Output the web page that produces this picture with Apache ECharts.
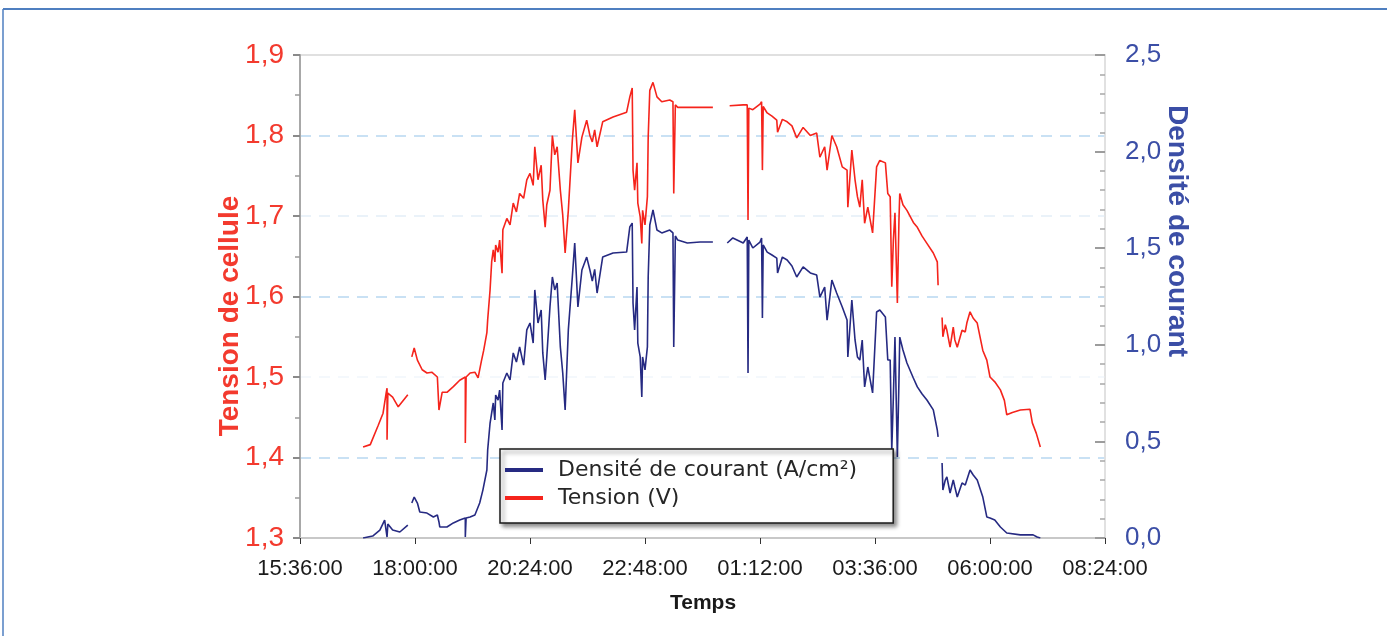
<!DOCTYPE html>
<html>
<head>
<meta charset="utf-8">
<script src="https://cdn.jsdelivr.net/npm/echarts@6/dist/echarts.min.js"></script>
<style>
  html, body { margin: 0; padding: 0; background: #fff; }
  #chart { width: 1387px; height: 636px; }
</style>
</head>
<body>
<div id="chart"></div>
<script>
// Elapsed minutes since 15:36:00, one reading per entry; null marks a break in the record.
const tensionTime = [
  79, 88, 98, 104, 108, 109, 109, 110, 116, 123, 135, null,
  140, 143, 147, 153, 159, 165, 172, 174, 178, 184, 192, 200, 207, 207, 208, 213, 219, 223, 227, 230, 234,
  235, 238, 240, 242, 244, 245, 248, 250, 253, 254, 259, 263, 267, 271, 275, 280, 284, 288, 292, 294, 298,
  302, 304, 307, 309, 313, 316, 319, 322, 326, 329, 332, 336, 341, 344, 348, 353, 359, 363, 366, 369, 372,
  379, 392, 409, 413, 416, 417, 419, 422, 423, 426, 428, 429, 432, 435, 436, 438, 442, 447, 453, 463, 467,
  468, 470, 473, 485, 517, null,
  538, 555, 560, 561, 562, 567, 576, 578, 579, 580, 585, 591, 597, 598, 604, 610, 616, 622, 630, 639, 647,
  651, 657, 660, 666, 672, 679, 685, 686, 691, 695, 698, 701, 704, 707, 711, 717, 722, 726, 733, 736, 739,
  741, 743, 745, 748, 750, 751, 755, 760, 768, 773, 779, 785, 793, 798, 799, null,
  804, 805, 808, 810, 814, 818, 820, 823, 829, 833, 835, 839, 843, 848, 855, 860, 864, 870, 877, 882, 885,
  892, 902, 914, 917, 922, 927
];
const tensionValues = [
  1.413, 1.416, 1.440, 1.455, 1.481, 1.486, 1.422, 1.480, 1.475, 1.463, 1.478, null,
  1.525, 1.536, 1.521, 1.509, 1.505, 1.506, 1.500, 1.459, 1.481, 1.481, 1.488, 1.496, 1.500, 1.418, 1.500, 1.505, 1.506, 1.499, 1.519, 1.533, 1.555,
  1.571, 1.608, 1.643, 1.658, 1.643, 1.664, 1.655, 1.670, 1.629, 1.683, 1.697, 1.689, 1.716, 1.705, 1.728, 1.722, 1.745, 1.753, 1.738, 1.786, 1.745,
  1.763, 1.720, 1.686, 1.714, 1.732, 1.800, 1.776, 1.786, 1.732, 1.701, 1.654, 1.707, 1.794, 1.832, 1.766, 1.798, 1.819, 1.800, 1.792, 1.807, 1.786,
  1.817, 1.823, 1.829, 1.848, 1.859, 1.757, 1.732, 1.766, 1.716, 1.699, 1.666, 1.707, 1.689, 1.724, 1.798, 1.856, 1.866, 1.848, 1.842, 1.844, 1.842,
  1.728, 1.838, 1.835, 1.835, 1.835, null,
  1.837, 1.838, 1.838, 1.695, 1.834, 1.832, 1.839, 1.842, 1.757, 1.836, 1.828, 1.824, 1.819, 1.804, 1.820, 1.817, 1.812, 1.797, 1.810, 1.800, 1.803,
  1.773, 1.786, 1.757, 1.800, 1.786, 1.761, 1.757, 1.711, 1.782, 1.745, 1.724, 1.711, 1.745, 1.691, 1.711, 1.679, 1.761, 1.769, 1.766, 1.728, 1.724,
  1.612, 1.670, 1.704, 1.592, 1.695, 1.728, 1.714, 1.707, 1.692, 1.686, 1.675, 1.666, 1.654, 1.643, 1.614, null,
  1.574, 1.550, 1.565, 1.558, 1.537, 1.562, 1.546, 1.537, 1.558, 1.556, 1.567, 1.581, 1.573, 1.567, 1.533, 1.521, 1.500, 1.494, 1.484, 1.471, 1.453,
  1.456, 1.459, 1.460, 1.443, 1.430, 1.413
];

const densiteTime = [
  79, 91, 100, 106, 109, 110, 116, 125, 135, null,
  140, 143, 147, 150, 159, 167, 172, 174, 175, 184, 192, 200, 207, 207, 208, 213, 219, 225, 229, 234,
  235, 238, 240, 242, 244, 245, 248, 250, 253, 254, 259, 263, 267, 271, 275, 280, 284, 288, 292, 294, 298,
  302, 304, 307, 309, 313, 316, 319, 322, 326, 329, 332, 336, 341, 344, 348, 353, 359, 363, 366, 369, 372,
  379, 392, 409, 413, 416, 417, 419, 422, 423, 426, 428, 429, 432, 435, 436, 438, 442, 447, 453, 463, 467,
  468, 470, 473, 485, 501, 517, null,
  535, 542, 555, 560, 561, 562, 567, 576, 578, 579, 580, 585, 591, 597, 598, 604, 610, 616, 622, 630, 639, 647,
  651, 657, 660, 666, 672, 679, 685, 686, 691, 695, 698, 701, 704, 707, 711, 717, 722, 726, 733, 736, 739,
  741, 743, 745, 748, 750, 751, 755, 760, 768, 773, 779, 785, 793, 798, 799, null,
  804, 805, 808, 810, 814, 818, 820, 823, 829, 833, 835, 839, 843, 848, 855, 860, 864, 870, 877, 885,
  902, 914, 918, 923, 927
];
const densiteValues = [
  0.000, 0.010, 0.041, 0.093, 0.005, 0.072, 0.041, 0.031, 0.067, null,
  0.181, 0.212, 0.181, 0.135, 0.129, 0.109, 0.119, 0.083, 0.057, 0.057, 0.078, 0.093, 0.104, 0.005, 0.104, 0.109, 0.119, 0.181, 0.248, 0.352,
  0.455, 0.595, 0.647, 0.699, 0.611, 0.740, 0.714, 0.766, 0.559, 0.802, 0.854, 0.818, 0.958, 0.911, 0.989, 0.895, 1.077, 1.113, 1.009, 1.284, 1.113,
  1.180, 0.958, 0.818, 0.937, 1.196, 1.351, 1.284, 1.320, 0.989, 0.854, 0.663, 1.077, 1.351, 1.527, 1.196, 1.387, 1.454, 1.387, 1.330, 1.390, 1.268,
  1.454, 1.475, 1.480, 1.610, 1.630, 1.216, 1.077, 1.299, 1.009, 0.937, 0.730, 0.937, 0.870, 0.989, 1.351, 1.620, 1.698, 1.594, 1.579, 1.594, 1.579,
  0.989, 1.563, 1.542, 1.527, 1.532, 1.532, null,
  1.527, 1.553, 1.527, 1.558, 0.854, 1.542, 1.501, 1.532, 1.553, 1.139, 1.517, 1.480, 1.465, 1.449, 1.372, 1.454, 1.439, 1.408, 1.351, 1.403, 1.372, 1.361,
  1.247, 1.299, 1.128, 1.335, 1.268, 1.196, 1.128, 0.937, 1.232, 1.025, 0.937, 0.921, 1.025, 0.782, 0.885, 0.751, 1.170, 1.180, 1.144, 0.921, 0.921,
  0.455, 0.730, 1.040, 0.419, 0.818, 1.040, 0.973, 0.906, 0.828, 0.782, 0.745, 0.714, 0.663, 0.559, 0.523, null,
  0.388, 0.248, 0.300, 0.316, 0.233, 0.300, 0.264, 0.212, 0.285, 0.274, 0.300, 0.352, 0.326, 0.300, 0.212, 0.109, 0.104, 0.093, 0.057, 0.026,
  0.016, 0.016, 0.016, 0.005, 0.000
];

// Axis ranges and ticks
const startClock = 15 * 60 + 36;   // 15:36:00
const timeStep = 144;              // 2 h 24 min between time labels
const timeMax = 1008;              // 08:24:00 next day
const tensionMin = 1.3, tensionMax = 1.9, tensionStep = 0.1;
const densiteMin = 0, densiteMax = 2.5, densiteStep = 0.5;

const RED = '#f5241c';
const BLUE = '#262a82';
const RED_TXT = '#f33a2e';
const BLUE_TXT = '#3b4ea6';

function pairs(ts, vs) {
  return ts.map((t, i) => (t === null || vs[i] === null) ? [t === null ? '-' : t, '-'] : [t, vs[i]]);
}

function clockLabel(v) {
  const total = (startClock + Math.round(v)) % 1440;
  const h = Math.floor(total / 60), m = total % 60;
  return String(h).padStart(2, '0') + ':' + String(m).padStart(2, '0') + ':00';
}

function commaNum(v) {
  return v.toFixed(1).replace('.', ',');
}

const chart = echarts.init(document.getElementById('chart'), null, { renderer: 'canvas' });

chart.setOption({
  animation: false,
  backgroundColor: '#ffffff',
  grid: {
    left: 300, right: 282, top: 55, bottom: 98,
    show: true, borderColor: '#d6d6d6', borderWidth: 1.5, backgroundColor: 'transparent'
  },
  legend: {
    data: ['Densité de courant (A/cm²)', 'Tension (V)'],
    orient: 'vertical',
    left: 500, top: 449,
    padding: [10, 36, 14, 5],
    itemGap: 6,
    itemWidth: 38, itemHeight: 4,
    icon: 'rect',
    backgroundColor: '#ffffff',
    borderColor: '#1a1a1a', borderWidth: 1.5,
    shadowColor: 'rgba(0,0,0,0.45)', shadowBlur: 4, shadowOffsetX: 3, shadowOffsetY: 3,
    textStyle: { fontFamily: 'DejaVu Sans', fontSize: 22, color: '#262626', padding: [0, 0, 0, 10] },
    selectedMode: false,
    z: 10
  },
  xAxis: {
    type: 'value',
    min: 0, max: timeMax, interval: timeStep,
    axisLine: { show: true, lineStyle: { color: '#c8c8c8', width: 2 } },
    axisTick: { show: true, length: 6, lineStyle: { color: '#333', width: 1 } },
    axisLabel: {
      formatter: clockLabel, color: '#1a1a1a', fontFamily: 'Liberation Sans',
      fontSize: 22, margin: 20
    },
    splitLine: { show: false }
  },
  yAxis: [
    {
      type: 'value',
      position: 'left',
      min: tensionMin, max: tensionMax, interval: tensionStep,
      axisLine: { show: true, lineStyle: { color: '#a8a8a8', width: 2 } },
      axisTick: { show: true, length: 7, lineStyle: { color: '#8a8a8a', width: 2 } },
      minorTick: { show: true, splitNumber: 2, length: 5, lineStyle: { color: '#9a9a9a', width: 1.5 } },
      axisLabel: {
        formatter: commaNum, color: RED_TXT, fontFamily: 'Liberation Sans',
        fontSize: 28, margin: 16
      },
      splitLine: {
        show: true,
        lineStyle: {
          type: [11, 8], width: 1.5,
          color: ['transparent', '#b8d7f1', '#f1f6fb', '#b8d7f1', '#e4eef8', '#b8d7f1', 'transparent']
        }
      }
    },
    {
      type: 'value',
      position: 'right',
      min: densiteMin, max: densiteMax, interval: densiteStep,
      axisLine: { show: true, lineStyle: { color: '#e2e2e2', width: 1.5 } },
      axisTick: { show: true, inside: true, length: 10, lineStyle: { color: '#9c9c9c', width: 2 } },
      minorTick: { show: true, splitNumber: 5, length: 5, lineStyle: { color: '#a8a8a8', width: 1.5 } },
      axisLabel: {
        formatter: commaNum, color: BLUE_TXT, fontFamily: 'Liberation Sans',
        fontSize: 26, margin: 20
      },
      splitLine: { show: false }
    }
  ],
  graphic: [
    // page frame
    { type: 'line', shape: { x1: 3, y1: 9, x2: 1387, y2: 9 }, style: { stroke: '#4f7fc0', lineWidth: 2 }, silent: true },
    { type: 'line', shape: { x1: 3, y1: 9, x2: 3, y2: 636 }, style: { stroke: '#4f7fc0', lineWidth: 1.5 }, silent: true },
    {
      type: 'text', x: 230, y: 316, rotation: Math.PI / 2,
      style: {
        text: 'Tension de cellule', fill: RED_TXT, align: 'center', verticalAlign: 'middle',
        font: 'bold 28px "Liberation Sans"'
      }
    },
    {
      type: 'text', x: 1177, y: 231, rotation: -Math.PI / 2,
      style: {
        text: 'Densité de courant', fill: BLUE_TXT, align: 'center', verticalAlign: 'middle',
        font: 'bold 28px "Liberation Sans"'
      }
    },
    {
      type: 'text', x: 703, y: 603,
      style: {
        text: 'Temps', fill: '#1a1a1a', align: 'center', verticalAlign: 'middle',
        font: 'bold 21px "Liberation Sans"'
      }
    }
  ],
  series: [
    {
      name: 'Densité de courant (A/cm²)',
      type: 'line',
      yAxisIndex: 1,
      data: pairs(densiteTime, densiteValues),
      showSymbol: false,
      connectNulls: false,
      color: BLUE,
      lineStyle: { color: BLUE, width: 1.6 },
      z: 3
    },
    {
      name: 'Tension (V)',
      type: 'line',
      yAxisIndex: 0,
      data: pairs(tensionTime, tensionValues),
      showSymbol: false,
      connectNulls: false,
      color: RED,
      lineStyle: { color: RED, width: 1.6 },
      z: 3
    }
  ]
});
</script>
</body>
</html>
